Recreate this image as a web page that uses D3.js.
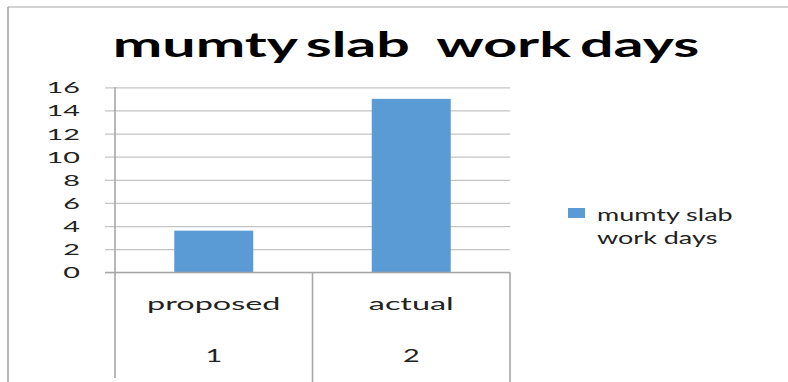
<!DOCTYPE html>
<html>
<head>
<meta charset="utf-8">
<script src="https://cdn.jsdelivr.net/npm/d3@7"></script>
<style>
  html, body { margin: 0; padding: 0; background: #fff; }
  svg { display: block; }
  text { font-family: Lato, "Open Sans", sans-serif; fill: #222; white-space: pre; }
</style>
</head>
<body>
<script>
// Chart data
const categories = ["proposed", "actual"];
const groupLabels = ["1", "2"];
const workDays = [3.6, 15];
const yTicks = [0, 2, 4, 6, 8, 10, 12, 14, 16];
const seriesName = ["mumty slab", "work days"];
const chartTitle = "mumty slab   work days";

const W = 788, H = 382;
const svg = d3.select("body").append("svg").attr("width", W).attr("height", H);

const plot = { left: 115, right: 510, top: 87.3, bottom: 272.3 };
const y = d3.scaleLinear().domain([0, 16]).range([plot.bottom, plot.top]);
const x = d3.scaleBand().domain(categories).range([plot.left, plot.right])
  .paddingInner(0.6).paddingOuter(0.3);
const xCell = d3.scaleBand().domain(categories).range([plot.left, plot.right]);

const gridColor = "#c4c4c4";
const axisColor = "#a6a6a6";

// Outer frame (top and left edges)
svg.append("line").attr("x1", 8).attr("x2", W).attr("y1", 7).attr("y2", 7)
  .attr("stroke", axisColor).attr("stroke-width", 1.2);
svg.append("line").attr("x1", 8).attr("x2", 8).attr("y1", 7).attr("y2", H)
  .attr("stroke", axisColor).attr("stroke-width", 1.6);

// Horizontal text stretch helper
function stretched(sel, sx) {
  return sel.attr("transform", function () {
    const tx = +this.getAttribute("data-x"), ty = +this.getAttribute("data-y");
    return `translate(${tx},${ty}) scale(${sx},1)`;
  });
}

// Title
svg.append("text").attr("data-x", 406).attr("data-y", 57)
  .attr("text-anchor", "middle").attr("font-weight", "bold")
  .attr("font-size", 34).attr("word-spacing", -3).style("fill", "#000")
  .text(chartTitle).call(stretched, 1.74);

// Gridlines with outside ticks
const yAxis = d3.axisLeft(y).tickValues(yTicks)
  .tickSize(-(plot.right - plot.left)).tickSizeOuter(0).tickFormat("");
const gy = svg.append("g").attr("transform", `translate(${plot.left},0)`).call(yAxis);
gy.select(".domain").remove();
gy.selectAll(".tick line").attr("x1", -10).attr("stroke", gridColor).attr("stroke-width", 1.3);

// Tick labels
svg.append("g").selectAll("text").data(yTicks).join("text")
  .attr("data-x", 80).attr("data-y", d => y(d) + 6)
  .attr("text-anchor", "end").attr("font-size", 16)
  .text(d => d).call(stretched, 1.8);

// Bars
svg.append("g").selectAll("rect").data(workDays).join("rect")
  .attr("x", (d, i) => x(categories[i]))
  .attr("width", x.bandwidth())
  .attr("y", d => y(d))
  .attr("height", d => y(0) - y(d))
  .attr("fill", "#5b9bd5");

// Vertical axis and category dividers
svg.append("line").attr("x1", plot.left).attr("x2", plot.left)
  .attr("y1", plot.top).attr("y2", 378).attr("stroke", axisColor).attr("stroke-width", 1.6);
svg.append("g").selectAll("line").data(categories).join("line")
  .attr("x1", d => xCell(d) + xCell.bandwidth()).attr("x2", d => xCell(d) + xCell.bandwidth())
  .attr("y1", plot.bottom).attr("y2", H)
  .attr("stroke", axisColor).attr("stroke-width", 1.6);
svg.append("line").attr("x1", plot.left - 10).attr("x2", plot.right)
  .attr("y1", y(0)).attr("y2", y(0)).attr("stroke", axisColor).attr("stroke-width", 1.3);

// Category labels (two levels)
svg.append("g").selectAll("text").data(categories).join("text")
  .attr("data-x", d => xCell(d) + xCell.bandwidth() / 2).attr("data-y", 310)
  .attr("text-anchor", "middle").attr("font-size", 18)
  .text(d => d).call(stretched, 1.8);
svg.append("g").selectAll("text").data(groupLabels).join("text")
  .attr("data-x", (d, i) => xCell(categories[i]) + xCell.bandwidth() / 2).attr("data-y", 362)
  .attr("text-anchor", "middle").attr("font-size", 18)
  .text(d => d).call(stretched, 1.6);

// Legend
const lg = svg.append("g");
lg.append("rect").attr("x", 568).attr("y", 208).attr("width", 17).attr("height", 10)
  .attr("fill", "#5b9bd5");
lg.selectAll("text").data(seriesName).join("text")
  .attr("data-x", 597).attr("data-y", (d, i) => 221 + i * 23)
  .attr("font-size", 18)
  .text(d => d).call(stretched, 1.5);
</script>
</body>
</html>
